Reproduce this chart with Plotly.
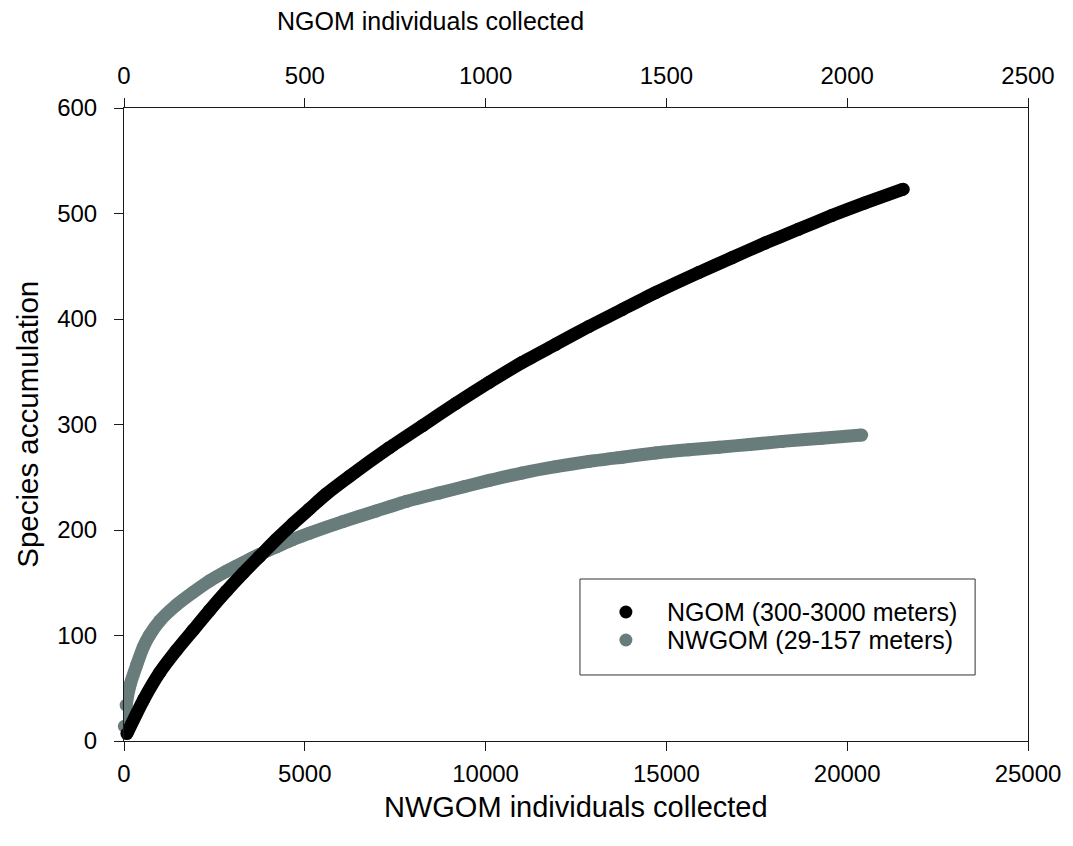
import plotly.graph_objects as go

# Species accumulation, NGOM (deep, 300-3000 m) vs NWGOM (shelf, 29-157 m)
ngom_individuals = [8, 54, 99, 145, 191, 237, 283, 329, 375, 421, 467, 513, 559,
                    624, 734, 826, 918, 1010, 1102, 1194, 1286, 1378, 1470, 1589,
                    1681, 1773, 1865, 1957, 2049, 2155]
ngom_species = [7, 39, 65, 86, 105, 124, 142, 159, 175, 191, 206, 220, 234,
                251, 278, 299, 320, 340, 359, 376, 393, 409, 425, 444,
                458, 472, 485, 498, 510, 523]

nwgom_individuals = [10, 60, 166, 350, 534, 700, 993, 1453, 1913, 2373, 2833, 3292,
                     3753, 4213, 4672, 5133, 6052, 6972, 7800, 8700, 9400, 10100,
                     11000, 11940, 12860, 13780, 14700, 15620, 16450, 17300, 18200,
                     19300, 20400]
nwgom_species = [14, 34, 53, 72, 89, 100, 114, 129, 141, 152, 161, 169,
                 177, 184, 191, 197, 208, 218, 227, 235, 241, 247,
                 254, 260, 265, 269, 273, 276, 278.5, 281, 284,
                 287, 290]

series_names = ["NGOM (300-3000 meters)", "NWGOM (29-157 meters)"]
series_colors = ["#000000", "#687c7c"]

y_ticks = [0, 100, 200, 300, 400, 500, 600]
bottom_ticks = [0, 5000, 10000, 15000, 20000, 25000]
top_ticks = [0, 500, 1000, 1500, 2000, 2500]

FONT = "Liberation Sans, Arial, sans-serif"
AXIS_COLOR = "#1a1a1a"
BAND = 13

fig = go.Figure()

fig.add_trace(go.Scatter(
    x=ngom_individuals, y=ngom_species, xaxis="x2", yaxis="y",
    mode="lines+markers", name=series_names[0], showlegend=False,
    line=dict(color=series_colors[0], width=BAND, shape="spline", smoothing=0.6),
    marker=dict(color=series_colors[0], size=BAND),
    cliponaxis=False,
))
fig.add_trace(go.Scatter(
    x=nwgom_individuals, y=nwgom_species, xaxis="x", yaxis="y",
    mode="lines+markers", name=series_names[1], showlegend=False,
    line=dict(color=series_colors[1], width=BAND, shape="spline", smoothing=0.6),
    marker=dict(color=series_colors[1], size=BAND),
    cliponaxis=False,
))

tick_font = dict(family=FONT, size=24, color="#000000")

fig.update_layout(
    width=1073, height=846,
    margin=dict(l=124, r=43, t=108, b=105),
    paper_bgcolor="white", plot_bgcolor="white",
    showlegend=False,
    xaxis=dict(
        range=[0, 25000], tickvals=bottom_ticks, ticktext=[str(v) for v in bottom_ticks],
        ticks="outside", ticklen=9, tickwidth=1, tickcolor=AXIS_COLOR,
        showline=True, linecolor=AXIS_COLOR, linewidth=1,
        showgrid=False, zeroline=False, tickfont=tick_font, ticklabelstandoff=2,
    ),
    xaxis2=dict(
        range=[0, 2500], tickvals=top_ticks, ticktext=[str(v) for v in top_ticks],
        overlaying="x", side="top", anchor="y",
        ticks="outside", ticklen=9, tickwidth=1, tickcolor=AXIS_COLOR,
        showline=True, linecolor=AXIS_COLOR, linewidth=1,
        showgrid=False, zeroline=False, tickfont=tick_font, ticklabelstandoff=4,
    ),
    yaxis=dict(
        range=[0, 600], tickvals=y_ticks, ticktext=[str(v) for v in y_ticks],
        ticks="outside", ticklen=9, tickwidth=1, tickcolor=AXIS_COLOR,
        showline=True, linecolor=AXIS_COLOR, linewidth=1, mirror=True,
        showgrid=False, zeroline=False, tickfont=tick_font, ticklabelstandoff=12,
    ),
)

# Axis titles
fig.add_annotation(text="NGOM individuals collected", xref="paper", yref="paper",
                   x=0.339, y=1.137, showarrow=False, xanchor="center", yanchor="middle",
                   font=dict(family=FONT, size=25, color="#000000"))
fig.add_annotation(text="NWGOM individuals collected", xref="paper", yref="paper",
                   x=0.5, y=-0.104, showarrow=False, xanchor="center", yanchor="middle",
                   borderpad=0,
                   font=dict(family=FONT, size=29, color="#000000"))
fig.add_annotation(text="Species accumulation", xref="paper", yref="paper",
                   x=-0.107, y=0.5, showarrow=False, textangle=-90,
                   xanchor="center", yanchor="middle",
                   font=dict(family=FONT, size=29.5, color="#000000"))

# Legend box with dot symbols and labels
fig.add_shape(type="rect", xref="paper", yref="paper",
              x0=0.5044, x1=0.9415, y0=0.1043, y1=0.2559,
              line=dict(color="#333333", width=1), fillcolor="white", layer="above")
legend_rows_y = [0.2038, 0.1596]
for name, color, ly in zip(series_names, series_colors, legend_rows_y):
    fig.add_shape(type="circle", xref="paper", yref="paper",
                  xsizemode="pixel", ysizemode="pixel",
                  xanchor=0.5552, yanchor=ly, x0=-6.5, x1=6.5, y0=-6.5, y1=6.5,
                  fillcolor=color, line=dict(color=color, width=0), layer="above")
    fig.add_annotation(text=name, xref="paper", yref="paper", x=0.5985, y=ly,
                       showarrow=False, xanchor="left", yanchor="middle",
                       font=dict(family=FONT, size=25, color="#000000"))

fig.write_html("out.html")
